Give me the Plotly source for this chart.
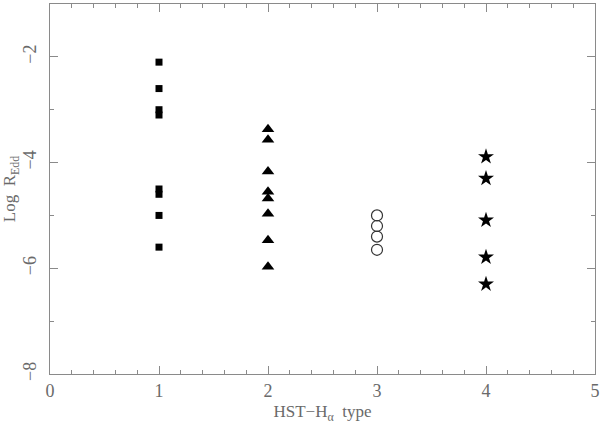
import plotly.graph_objects as go

# Data
type1_x = [1, 1, 1, 1, 1, 1, 1, 1]
type1_y = [-2.1, -2.6, -3.0, -3.1, -4.5, -4.6, -5.0, -5.6]
type2_x = [2, 2, 2, 2, 2, 2, 2, 2]
type2_y = [-3.37, -3.57, -4.17, -4.55, -4.68, -4.97, -5.47, -5.97]
type3_x = [3, 3, 3, 3]
type3_y = [-5.0, -5.2, -5.4, -5.65]
type4_x = [4, 4, 4, 4, 4]
type4_y = [-3.89, -4.3, -5.09, -5.79, -6.3]

x_ticks = [0, 1, 2, 3, 4, 5]
y_ticks = [-8, -6, -4, -2]
y_tick_text = ["\u22128", "\u22126", "\u22124", "\u22122"]

FONT = "Liberation Serif"
TXT = "#6a6a6a"
AX = "#8a8a8a"

fig = go.Figure()
fig.add_trace(go.Scatter(x=type1_x, y=type1_y, mode="markers",
                         marker=dict(symbol="square", size=7, color="black", line=dict(width=0))))
fig.add_trace(go.Scatter(x=type2_x, y=type2_y, mode="markers",
                         marker=dict(symbol="triangle-up", size=11, color="black", line=dict(width=0))))
fig.add_trace(go.Scatter(x=type3_x, y=type3_y, mode="markers",
                         marker=dict(symbol="circle-open", size=11, color="#333333", line=dict(width=1.2))))
fig.add_trace(go.Scatter(x=type4_x, y=type4_y, mode="markers",
                         marker=dict(symbol="star", size=12, color="black", line=dict(width=0))))

axis_common = dict(
    showgrid=False, zeroline=False, showline=True, linecolor=AX, linewidth=1,
    mirror="allticks", ticks="inside", ticklen=8, tickcolor=AX, tickwidth=1,
    tickfont=dict(family=FONT, size=18, color=TXT), automargin=False,
)

fig.update_xaxes(
    range=[0, 5], tickvals=x_ticks, ticktext=[str(v) for v in x_ticks],
    minor=dict(dtick=0.2, tick0=0, ticks="inside", ticklen=4, tickcolor=AX, showgrid=False),
    title=dict(text="HST\u2212H<sub>\u03b1</sub>  type", font=dict(family=FONT, size=17, color=TXT), standoff=5),
    **axis_common,
)
fig.update_yaxes(
    range=[-8, -1], tickvals=y_ticks, ticktext=y_tick_text,
    tickangle=-90, ticklabelstandoff=6,
    minor=dict(dtick=1, tick0=-8, ticks="inside", ticklen=4, tickcolor=AX, showgrid=False),
    title=dict(text="Log  R<sub>Edd</sub>", font=dict(family=FONT, size=17, color=TXT), standoff=4),
    **axis_common,
)

fig.update_layout(
    width=600, height=435,
    margin=dict(l=50, r=5, t=4, b=61),
    plot_bgcolor="white", paper_bgcolor="white",
    showlegend=False,
)

fig.write_html("out.html", config={"displayModeBar": False},
               post_script="document.body.style.margin='0';")
